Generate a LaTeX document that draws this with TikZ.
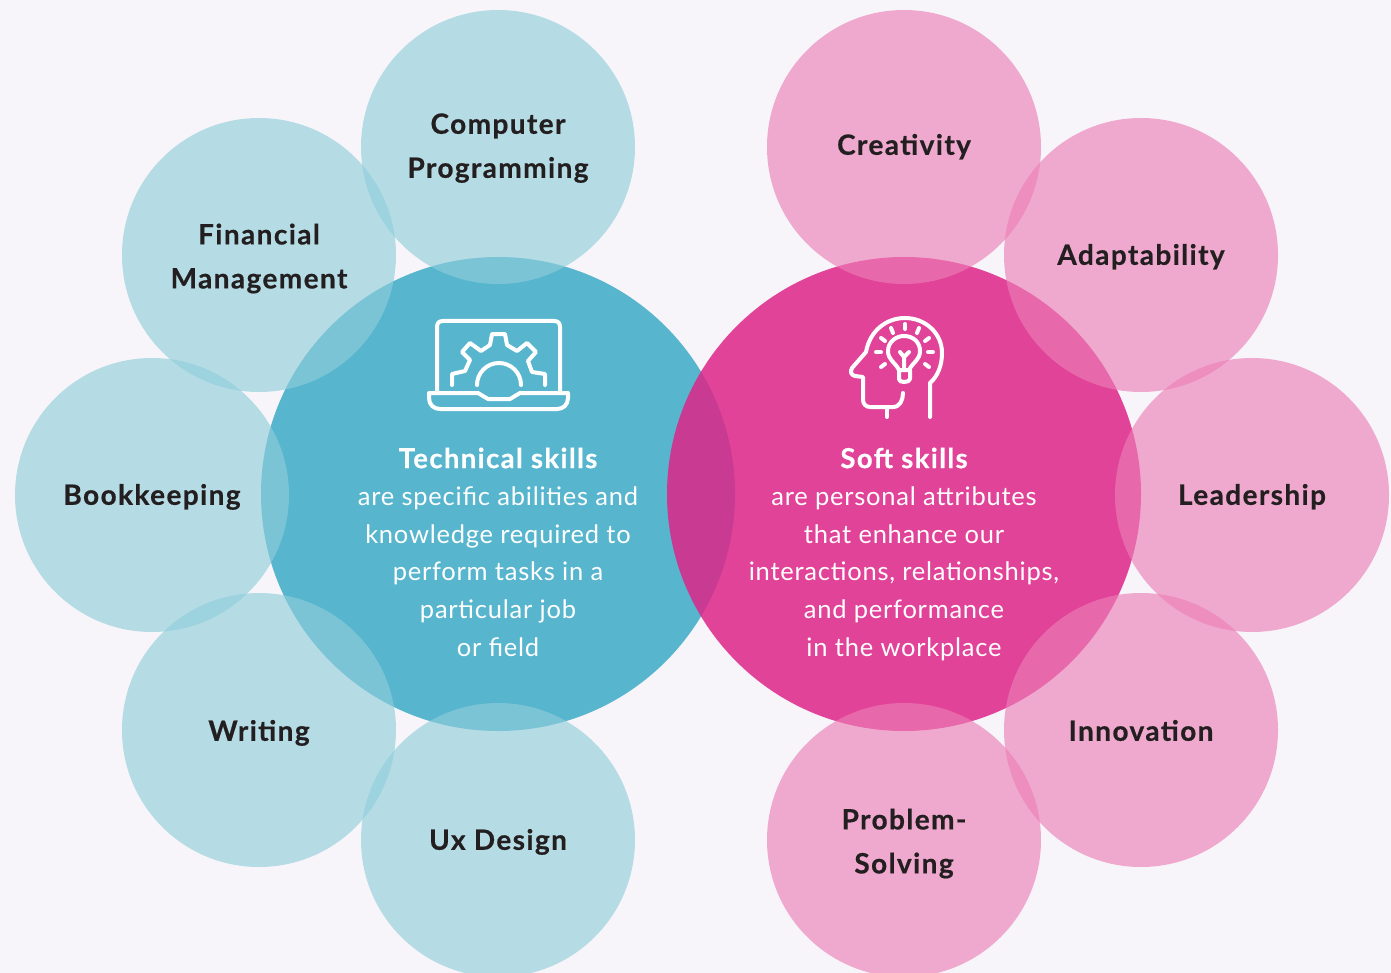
\documentclass[tikz,border=0pt]{standalone}
\usepackage{fontspec}
\setmainfont[LetterSpace=3, BoldFeatures={LetterSpace=5, FakeBold=0.5}]{Lato}
\definecolor{pagebg}{HTML}{F7F5F9}
\definecolor{techblue}{HTML}{30A5C4}
\definecolor{softpink}{HTML}{DE2588}
\definecolor{techlight}{HTML}{90CEDB}
\definecolor{softlight}{HTML}{EC7FB6}
\definecolor{labelink}{HTML}{231F20}
\newcommand{\drop}[2]{\raisebox{-#1pt}{#2}}
\tikzset{
    small/.style = {draw=none, circle, minimum size=274pt, inner sep=0pt, fill opacity=.64, text opacity=1, align=center, text=labelink, font=\fontsize{28}{44}\selectfont\bfseries},
    big/.style = {draw=none, circle, minimum size=474pt, inner sep=0pt, fill opacity=.8},
    blurb/.style = {text=white, align=center, font=\fontsize{25.5}{37.6}\selectfont, execute at begin node=\strut, execute at end node=\strut},
    icon/.style = {draw=white, line width=4pt, line cap=round, line join=round}
}
\begin{document}
\begin{tikzpicture}[x=1pt, y=-1pt]
    \clip (0,0) rectangle (1391,973);
    \fill[pagebg] (0,0) rectangle (1391,973);

    \node[big, fill=techblue] (tech) at (498,494) {};
    \node[big, fill=softpink, fill opacity=.85] (soft) at (904,494) {};

    \node[small, fill=techlight] (comp) at (498,147) {\strut Computer\\Programming\strut};
    \node[small, fill=techlight] (fin) at (259,255) {\rule{0pt}{36pt}Financial\\Management\strut};
    \node[small, fill=techlight] (book) at (152,495) {\strut\drop{1}{Bookkeeping}};
    \node[small, fill=techlight] (writ) at (259,730) {\strut\drop{2}{Writing}};
    \node[small, fill=techlight] (ux) at (498,840) {\strut\drop{1}{Ux Design}};

    \node[small, fill=softlight] (crea) at (904,147) {\strut\raisebox{1pt}{Creativity}};
    \node[small, fill=softlight] (adap) at (1141,255) {\strut\drop{1}{Adaptability}};
    \node[small, fill=softlight] (lead) at (1252,495) {\strut\drop{1}{Leadership}};
    \node[small, fill=softlight] (inno) at (1141,730) {\strut\drop{2}{Innovation}};
    \node[small, fill=softlight] (prob) at (904,840) {\rule{0pt}{36pt}Problem-\\Solving\strut};

    \node[blurb] (techtext) at (498,557.5) {{\fontsize{27.5}{37.6}\selectfont\bfseries Technical skills}\\are specific abilities and\\knowledge required to\\perform tasks in a\\particular job\\or field};
    \node[blurb] (softtext) at (904,557.5) {{\fontsize{27.5}{37.6}\selectfont\bfseries Soft skills}\\are personal attributes\\that enhance our\\interactions, relationships,\\and performance\\in the workplace};

    % laptop
    \draw[icon] (437,393) -- (437,327) .. controls (437,323) and (439,321) .. (443,321) -- (554,321) .. controls (558,321) and (560,323) .. (560,327) -- (560,393);
    \draw[icon] (429,393) -- (478,393) -- (488,399) -- (510,399) -- (520,393) -- (568,393) -- (568,398) .. controls (568,405) and (563,409) .. (557,409) -- (440,409) .. controls (434,409) and (429,405) .. (429,398) -- cycle;
    \draw[icon] (452,385) -- (452,374) -- (465,371) -- (470,360) -- (462,352) -- (470,343) -- (481,351) -- (490,345) -- (492,334) -- (505,334) -- (507,345) -- (517,351) -- (527,343) -- (536,352) -- (528,361) -- (532,372) -- (545,374) -- (545,385);
    \draw[icon] (477,385) arc (180:360:22);

    % head
    \draw[icon] (930,417) -- (930,383) .. controls (938,376) and (942,365) .. (942,353) .. controls (942,333) and (925,318) .. (905,318) .. controls (887,318) and (870,330) .. (866,352) -- (852,368) .. controls (850,372) and (851,375) .. (855,376) -- (863,377) -- (863,400) .. controls (863,404) and (866,407) .. (870,407) -- (893,407) .. controls (900,407) and (903,400) .. (903,393);
    \draw[icon] (887,407) -- (887,417);
    \draw[icon] (899,370) .. controls (895,362) and (888,360) .. (888,351) .. controls (888,342) and (896,336) .. (904,336) .. controls (913,336) and (920,342) .. (920,351) .. controls (920,360) and (913,362) .. (909,370);
    \draw[icon] (899,370) -- (899,379) .. controls (899,381) and (901,382) .. (904,382) .. controls (907,382) and (910,381) .. (910,379) -- (910,370) -- cycle;
    \draw[icon] (904,369) -- (904,357) -- (900,352);
    \draw[icon] (904,357) -- (909,352);
    \draw[icon] (905,324) -- (905,329);
    \draw[icon] (891,328) -- (893,333);
    \draw[icon] (881,338) -- (885,341);
    \draw[icon] (876,352) -- (881,352);
    \draw[icon] (881,367) -- (885,364);
    \draw[icon] (919,328) -- (917,333);
    \draw[icon] (929,338) -- (925,341);
    \draw[icon] (933,352) -- (928,352);
    \draw[icon] (929,367) -- (925,364);
\end{tikzpicture}
\end{document}
